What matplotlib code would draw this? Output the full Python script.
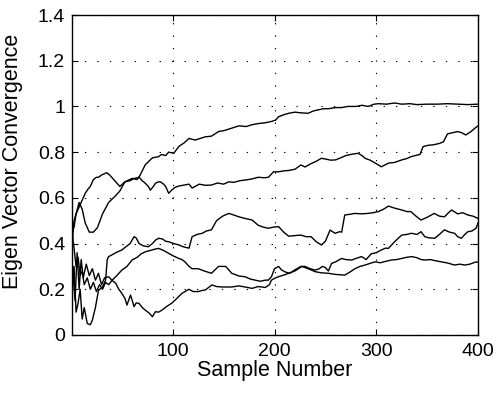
import matplotlib
matplotlib.use("Agg")
import matplotlib.pyplot as plt
import numpy as np

plt.rcParams["font.family"] = ["Liberation Sans", "DejaVu Sans"]

# (sample, value) pairs, one list per eigenvector
curve_a = [(1, 0.39), (3, 0.50), (5, 0.53), (8, 0.58), (11, 0.55), (14, 0.49), (18, 0.45),
           (22, 0.45), (26, 0.47), (31, 0.53), (37, 0.58), (44, 0.61), (48, 0.63), (53, 0.67),
           (60, 0.685), (65, 0.68), (68, 0.70), (73, 0.745), (80, 0.775), (86, 0.78), (89, 0.79),
           (93, 0.785), (96, 0.80), (101, 0.795), (106, 0.825), (111, 0.84), (116, 0.86),
           (122, 0.853), (127, 0.86), (132, 0.867), (138, 0.87), (145, 0.89), (151, 0.895),
           (158, 0.905), (165, 0.915), (172, 0.912), (178, 0.92), (184, 0.925), (190, 0.928),
           (196, 0.933), (201, 0.94), (204, 0.955), (210, 0.965), (214, 0.97), (220, 0.975),
           (226, 0.972), (233, 0.97), (238, 0.98), (243, 0.985), (248, 0.99), (253, 0.99),
           (260, 0.995), (266, 0.995), (272, 1.0), (280, 1.0), (286, 1.005), (292, 1.0),
           (298, 1.01), (302, 1.012), (310, 1.01), (318, 1.015), (325, 1.01), (333, 1.012),
           (340, 1.008), (350, 1.01), (360, 1.01), (370, 1.012), (380, 1.01), (390, 1.008),
           (400, 1.01)]

curve_b = [(1, 0.50), (3, 0.47), (5, 0.53), (8, 0.56), (11, 0.59), (14, 0.62), (17, 0.64),
           (19, 0.65), (22, 0.68), (25, 0.69), (27, 0.69), (30, 0.70), (35, 0.71), (38, 0.70),
           (42, 0.68), (45, 0.665), (48, 0.65), (53, 0.67), (58, 0.675), (62, 0.685), (67, 0.69),
           (70, 0.675), (73, 0.664), (76, 0.65), (78, 0.634), (81, 0.65), (83, 0.664), (86, 0.67),
           (88, 0.67), (91, 0.66), (93, 0.65), (96, 0.62), (99, 0.634), (102, 0.645),
           (106, 0.652), (110, 0.655), (116, 0.66), (119, 0.643), (122, 0.65), (126, 0.66),
           (132, 0.655), (138, 0.656), (144, 0.665), (150, 0.66), (155, 0.67), (160, 0.668),
           (166, 0.675), (171, 0.678), (177, 0.682), (184, 0.69), (190, 0.688), (194, 0.69),
           (199, 0.714), (204, 0.714), (209, 0.718), (214, 0.72), (220, 0.725), (226, 0.744),
           (230, 0.735), (236, 0.75), (241, 0.76), (246, 0.773), (250, 0.77), (255, 0.765),
           (260, 0.766), (265, 0.775), (270, 0.785), (275, 0.79), (282, 0.795), (286, 0.785),
           (289, 0.773), (294, 0.765), (299, 0.752), (305, 0.736), (309, 0.745), (312, 0.752),
           (318, 0.755), (325, 0.766), (330, 0.772), (334, 0.78), (340, 0.787), (343, 0.79),
           (346, 0.824), (351, 0.83), (356, 0.832), (362, 0.838), (366, 0.845), (370, 0.88),
           (375, 0.885), (380, 0.89), (384, 0.885), (388, 0.875), (393, 0.89), (397, 0.905),
           (400, 0.915)]

curve_c = [(1, 0.20), (3, 0.30), (5, 0.10), (7, 0.14), (9, 0.20), (11, 0.07), (13, 0.12),
           (16, 0.05), (19, 0.045), (21, 0.065), (24, 0.12), (27, 0.195), (31, 0.21), (34, 0.24),
           (35.6, 0.33), (37, 0.343), (40, 0.35), (44, 0.36), (50, 0.372), (54, 0.386),
           (58, 0.40), (62, 0.43), (64, 0.425), (67, 0.40), (71, 0.39), (76, 0.386), (80, 0.40),
           (83, 0.415), (86, 0.423), (90, 0.42), (93, 0.41), (96, 0.408), (101, 0.40),
           (106, 0.394), (111, 0.385), (116, 0.38), (119, 0.43), (124, 0.44), (129, 0.445),
           (133, 0.455), (138, 0.46), (143, 0.50), (149, 0.52), (155, 0.532), (160, 0.525),
           (165, 0.517), (171, 0.51), (178, 0.503), (184, 0.48), (189, 0.472), (194, 0.467),
           (199, 0.472), (204, 0.474), (209, 0.45), (214, 0.432), (220, 0.435), (226, 0.437),
           (231, 0.43), (236, 0.43), (241, 0.408), (246, 0.394), (250, 0.41), (254.6, 0.459),
           (259.5, 0.445), (264, 0.452), (266, 0.45), (269, 0.525), (274, 0.528), (279, 0.532),
           (285, 0.53), (292, 0.532), (297, 0.535), (302, 0.54), (307, 0.55), (312, 0.564),
           (318, 0.555), (325, 0.547), (330, 0.54), (334, 0.54), (339, 0.52), (344, 0.503),
           (350, 0.515), (357, 0.532), (362, 0.52), (367, 0.517), (371, 0.535), (374, 0.547),
           (380, 0.53), (385, 0.535), (390, 0.525), (395, 0.52), (400, 0.51)]

curve_d = [(1, 0.45), (3, 0.38), (5, 0.30), (7, 0.34), (9, 0.26), (11, 0.28), (13, 0.22),
           (16, 0.25), (19, 0.20), (22, 0.23), (25, 0.19), (28, 0.22), (31, 0.20), (34, 0.23),
           (37, 0.22), (40.5, 0.24), (45, 0.26), (50, 0.284), (55, 0.30), (60, 0.328),
           (65, 0.34), (69, 0.355), (73, 0.364), (78, 0.37), (82, 0.375), (86, 0.379),
           (91, 0.37), (96, 0.357), (101, 0.345), (106, 0.335), (109, 0.33), (112, 0.32),
           (116, 0.30), (119, 0.29), (125, 0.29), (131, 0.28), (138, 0.27), (145, 0.30),
           (152, 0.30), (158, 0.27), (165, 0.258), (171, 0.255), (176, 0.245), (181, 0.24),
           (186, 0.235), (191, 0.24), (194, 0.24), (197, 0.255), (200, 0.29), (204, 0.30),
           (207, 0.284), (211, 0.275), (215, 0.27), (220, 0.285), (226, 0.30), (230, 0.30),
           (235, 0.29), (240, 0.284), (244, 0.29), (247, 0.30), (250, 0.295), (253, 0.28),
           (256, 0.313), (260, 0.32), (266, 0.335), (270, 0.33), (276, 0.328), (280, 0.335),
           (285.6, 0.343), (290, 0.33), (295, 0.355), (300, 0.36), (305, 0.372), (309, 0.38),
           (312, 0.379), (318, 0.408), (322, 0.425), (325, 0.437), (330, 0.44), (334.6, 0.445),
           (340, 0.44), (344, 0.452), (347.7, 0.43), (352, 0.425), (357.5, 0.423), (362, 0.44),
           (367, 0.46), (372, 0.45), (377, 0.445), (380, 0.43), (383.6, 0.423), (387, 0.44),
           (390, 0.452), (394, 0.455), (398, 0.467), (400, 0.49)]

curve_e = [(1, 0.10), (2, 0.30), (4, 0.15), (6, 0.36), (8, 0.20), (10, 0.33), (12, 0.25),
           (15, 0.31), (18, 0.26), (21, 0.29), (24, 0.24), (27, 0.27), (30, 0.22), (33, 0.25),
           (37, 0.255), (40, 0.24), (44, 0.226), (47, 0.20), (50, 0.182), (53, 0.16),
           (55, 0.131), (58.5, 0.175), (62, 0.124), (64, 0.14), (66.7, 0.139), (70, 0.12),
           (73, 0.109), (77, 0.095), (80, 0.08), (83, 0.102), (86, 0.10), (89.5, 0.109),
           (94, 0.125), (99, 0.139), (104, 0.16), (109, 0.182), (112, 0.19), (116, 0.20),
           (120, 0.19), (125, 0.19), (129, 0.195), (132, 0.197), (138.5, 0.219), (143, 0.212),
           (148, 0.21), (152, 0.21), (158, 0.21), (165, 0.215), (171, 0.21), (178, 0.204),
           (184, 0.212), (191, 0.208), (195, 0.22), (197, 0.24), (201, 0.25), (204, 0.255),
           (209, 0.262), (214, 0.27), (220, 0.28), (227, 0.30), (233, 0.29), (240, 0.277),
           (246, 0.272), (253, 0.27), (260, 0.265), (269, 0.262), (274, 0.275), (279, 0.29),
           (284, 0.30), (289, 0.306), (295, 0.315), (299, 0.32), (304, 0.316), (309, 0.322),
           (315, 0.328), (320, 0.33), (325, 0.335), (330, 0.34), (335, 0.343), (340, 0.338),
           (344, 0.33), (348, 0.328), (353, 0.33), (358, 0.325), (364, 0.32), (370, 0.315),
           (377, 0.306), (382, 0.31), (387, 0.306), (392, 0.31), (398, 0.32), (400, 0.318)]

x_ticks = [100, 200, 300, 400]
y_ticks = [0, 0.2, 0.4, 0.6, 0.8, 1.0, 1.2, 1.4]
y_tick_labels = ["0", "0.2", "0.4", "0.6", "0.8", "1", "1.2", "1.4"]

fig = plt.figure(figsize=(4.98, 3.93), dpi=100)
ax = fig.add_axes([0.1446, 0.1476, 0.8153, 0.8142])

for curve in (curve_a, curve_b, curve_c, curve_d, curve_e):
    xs, ys = zip(*curve)
    ax.plot(xs, ys, color="black", linewidth=1.0)

ax.set_xlim(1, 400)
ax.set_ylim(0, 1.4)
ax.set_xticks(x_ticks)
ax.set_yticks(y_ticks, y_tick_labels)
ax.tick_params(direction="in", top=True, right=True, labelsize=14, length=4)
ax.tick_params(axis="x", pad=6)
ax.tick_params(axis="y", pad=5)
ax.grid(True, color="black", linestyle=(0, (1.2, 10)), linewidth=0.8)
for spine in ax.spines.values():
    spine.set_linewidth(1.0)

ax.set_xlabel("Sample Number", fontsize=15.5, labelpad=0)
ax.set_ylabel("Eigen Vector Convergence", fontsize=15.5)
ax.yaxis.set_label_coords(-0.12, 0.544)

fig.savefig("out.png", dpi=100)
